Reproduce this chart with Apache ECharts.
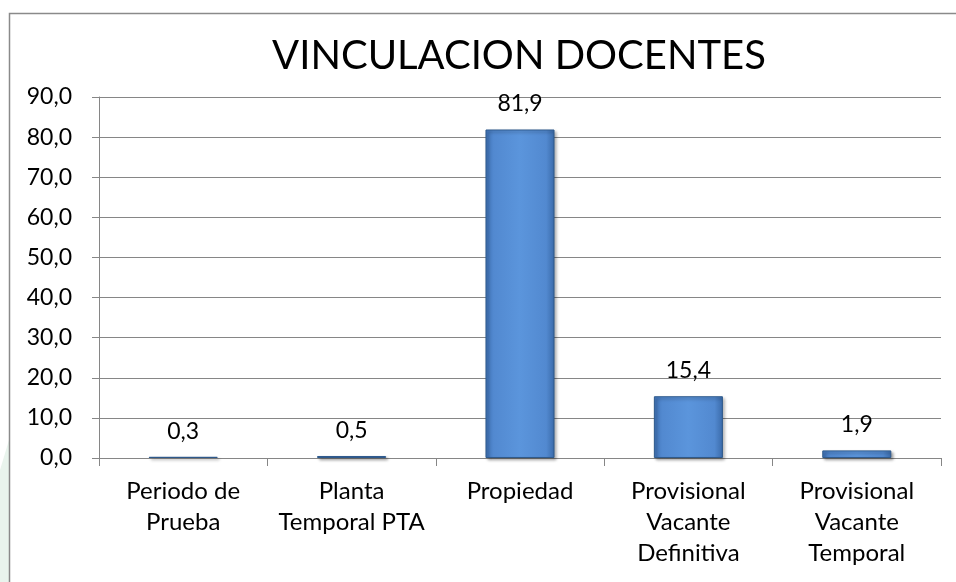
<!DOCTYPE html>
<html>
<head>
<meta charset="utf-8">
<title>VINCULACION DOCENTES</title>
<script src="https://cdn.jsdelivr.net/npm/echarts@6/dist/echarts.min.js"></script>
<style>
  html, body { margin: 0; padding: 0; background: #ffffff; }
  #chart { width: 956px; height: 582px; }
</style>
</head>
<body>
<div id="chart"></div>
<script>
// Percentage of teachers by type of appointment
const categories = [
  'Periodo de\nPrueba',
  'Planta\nTemporal PTA',
  'Propiedad',
  'Provisional\nVacante\nDefinitiva',
  'Provisional\nVacante\nTemporal'
];
const values = [0.3, 0.5, 81.9, 15.4, 1.9];
const yMin = 0;
const yMax = 90;
const yStep = 10;

const FONT = 'Lato';
const fmt = v => v.toFixed(1).replace('.', ',');

const chart = echarts.init(document.getElementById('chart'), null, { renderer: 'canvas' });

chart.setOption({
  backgroundColor: '#ffffff',
  animation: false,
  title: {
    text: 'VINCULACION DOCENTES',
    left: 514,
    top: 31,
    textAlign: 'center',
    textStyle: { fontFamily: FONT, fontSize: 40, fontWeight: 'normal', color: '#000000' }
  },
  graphic: [
    {
      type: 'polygon',
      silent: true,
      z: -10,
      shape: { points: [[0, 470], [9, 440], [9, 582], [0, 582]] },
      style: { fill: '#e9f4ed' }
    },
    {
      type: 'rect',
      silent: true,
      z: -5,
      shape: { x: 9.5, y: 13.5, width: 1000, height: 1000 },
      style: { fill: 'none', stroke: '#8a8a8a', lineWidth: 1.5 }
    }
  ],
  grid: { left: 99, right: 15, top: 97, bottom: 124, containLabel: false },
  xAxis: {
    type: 'category',
    data: categories,
    axisLine: { show: true, lineStyle: { color: '#868686', width: 1 } },
    axisTick: { show: true, alignWithLabel: false, length: 8, lineStyle: { color: '#868686' } },
    axisLabel: {
      interval: 0,
      margin: 18,
      fontFamily: FONT,
      fontSize: 24,
      lineHeight: 31,
      color: '#000000',
      align: 'center'
    }
  },
  yAxis: {
    type: 'value',
    min: yMin,
    max: yMax,
    interval: yStep,
    axisLine: { show: true, lineStyle: { color: '#868686', width: 1 } },
    axisTick: { show: true, length: 7, lineStyle: { color: '#868686' } },
    splitLine: { show: true, lineStyle: { color: '#868686', width: 1 } },
    axisLabel: {
      margin: 27,
      fontFamily: FONT,
      fontSize: 23,
      color: '#000000',
      formatter: v => fmt(v)
    }
  },
  series: [{
    type: 'bar',
    data: values,
    barWidth: '41%',
    itemStyle: {
      color: new echarts.graphic.LinearGradient(0, 0, 1, 0, [
        { offset: 0, color: '#3f72b6' },
        { offset: 0.12, color: '#5289d0' },
        { offset: 0.5, color: '#5b95dc' },
        { offset: 0.88, color: '#5289d0' },
        { offset: 1, color: '#3a6aa9' }
      ]),
      borderColor: '#2f5a8c',
      borderWidth: 1,
      shadowColor: 'rgba(0,0,0,0.35)',
      shadowBlur: 3,
      shadowOffsetX: 2,
      shadowOffsetY: 2
    },
    label: {
      show: true,
      position: 'top',
      distance: 14,
      fontFamily: FONT,
      fontSize: 23,
      color: '#000000',
      formatter: p => fmt(p.value)
    }
  }]
});
</script>
</body>
</html>
